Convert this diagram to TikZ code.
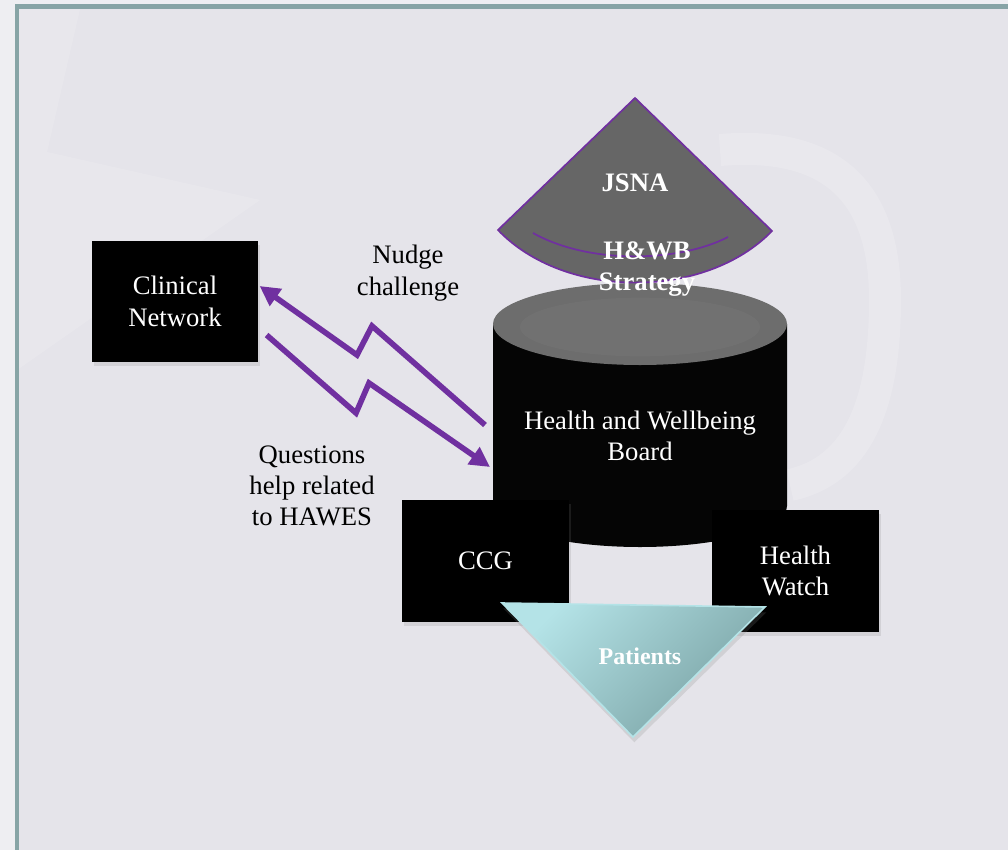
\documentclass[tikz,border=0pt]{standalone}
\usepackage{fontspec}
\setmainfont{Liberation Serif}
\usetikzlibrary{arrows.meta,shadows,calc}

\definecolor{bgpage}{HTML}{E5E4EA}
\definecolor{bgouter}{HTML}{EEEEF2}
\definecolor{framec}{HTML}{87A4A6}
\definecolor{linkpurple}{HTML}{7030A0}
\definecolor{conegray}{HTML}{666666}
\definecolor{lidgray}{HTML}{6D6D6D}
\definecolor{drumblack}{HTML}{050505}
\definecolor{patlight}{HTML}{B4E3E7}
\definecolor{patdark}{HTML}{7AA2A4}

\tikzset{
  txt/.style={font=\fontsize{20}{23.5}\selectfont, align=center, inner sep=0pt},
  boldw/.style={txt, font=\fontsize{20}{23.5}\selectfont\bfseries, text=white},
  blackbox/.style={fill=black, text=white, txt, minimum width=125pt, minimum height=91pt,
    drop shadow={shadow xshift=1.5pt, shadow yshift=-3pt, opacity=0.18}},
  flow/.style={draw=linkpurple, line width=4.2pt, -{Triangle[length=15pt,width=15pt]}},
  framerule/.style={draw=framec, line width=3.6pt},
}

\begin{document}
\begin{tikzpicture}[x=0.75pt, y=-0.75pt]
  \useasboundingbox (0,0) rectangle (1008,850);

  % page background and faint watermark shapes
  \fill[bgouter] (0,0) rectangle (1008,850);
  \fill[bgpage] (17,6.5) rectangle (1008,850);
  \fill[white, opacity=0.14] (80,9) -- (47,152) -- (260,200) -- (17,370) -- (17,9) -- cycle;
  \draw[white, opacity=0.16, line width=24pt]
    (720,150) .. controls (840,140) and (885,200) .. (885,300)
              .. controls (885,400) and (860,470) .. (790,485);

  % frame
  \draw[framerule] (17,850) -- (17,6.5) -- (1008,6.5);

  % Health and Wellbeing Board drum
  \fill[drumblack]
    (493,324) -- (493,506)
      .. controls (493,528.6) and (558.8,547) .. (640,547)
      .. controls (721.2,547) and (787,528.6) .. (787,506)
      -- (787,324) -- cycle;
  \fill[lidgray] (640,324) ellipse [x radius=110.25pt, y radius=30.75pt];
  \fill[white, opacity=0.03] (640,327) ellipse [x radius=90pt, y radius=22pt];

  % JSNA cone
  \draw[fill=conegray, draw=linkpurple, line width=1.3pt]
    (635,98) -- (498,230)
      .. controls (565,300) and (705,300) .. (772,231) -- cycle;
  \draw[linkpurple, line width=1.3pt]
    (533,233) .. controls (590,265) and (680,262) .. (728,237);

  \node[boldw] (jsna) at (635,183) {JSNA};
  \node[boldw] (strategy) at (647,269) {H\&WB\\Strategy};
  \node[txt, text=white] (hwb) at (640,436) {Health and Wellbeing\\Board};

  % Clinical Network and the two links
  \node[blackbox] (clin) at (175,301.5) {Clinical\\Network};

  \coordinate (nA) at (485,425);
  \coordinate (nB) at (372,326);
  \coordinate (nC) at (357,355);
  \coordinate (qB) at (356,413);
  \coordinate (qC) at (369,383);
  \coordinate (qD) at (490,467);

  \draw[flow] (nA) -- (nB) -- (nC) -- ($(clin.east)+(1,-15.5)$);
  \draw[flow] ($(clin.east)+(8,33.5)$) -- (qB) -- (qC) -- (qD);

  \node[txt] (nudge) at (408,273) {Nudge\\challenge};
  \node[txt] (questions) at (312,486) {Questions\\help related\\to HAWES};

  % CCG and Health Watch
  \node[blackbox] (ccg) at (485.5,561) {CCG};
  \node[blackbox] (watch) at (795.5,571) {Health\\Watch};

  % Patients triangle
  \path[draw=patlight, line width=1.2pt, top color=patlight, bottom color=patdark,
        shading angle=45,
        drop shadow={shadow xshift=1pt, shadow yshift=-4pt, opacity=0.2}]
    (502,603) -- (765,607) -- (633,737) -- cycle;
  \node[boldw, font=\fontsize{18}{21}\selectfont\bfseries] (patients) at (640,656) {Patients};
\end{tikzpicture}
\end{document}
